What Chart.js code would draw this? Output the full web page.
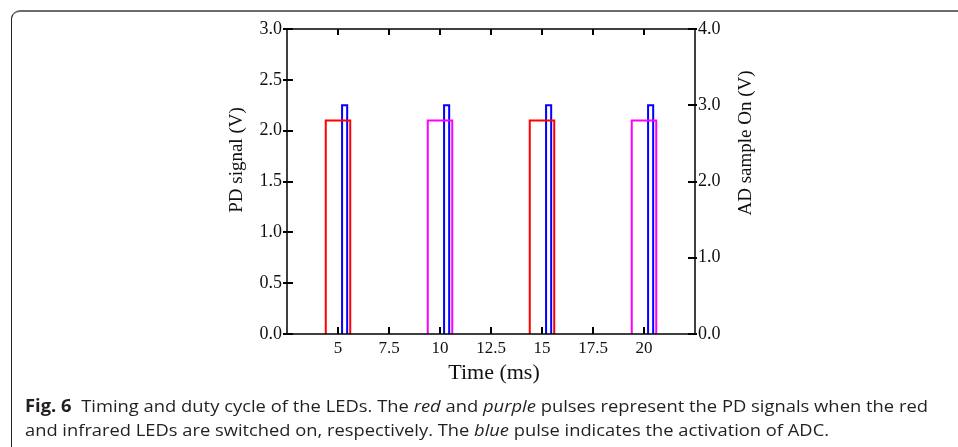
<!DOCTYPE html>
<html>
<head>
<meta charset="utf-8">
<script src="https://cdn.jsdelivr.net/npm/chart.js@4.4.1/dist/chart.umd.min.js"></script>
<style>
  html, body { margin: 0; padding: 0; background: #fff; }
  #wrap { position: relative; width: 958px; height: 447px; overflow: hidden; }
  #frame {
    position: absolute; left: 11px; top: 10px; width: 1000px; height: 500px;
    border-top: 2px solid #6b6b6b; border-left: 1px solid #222;
    border-top-left-radius: 9px;
  }
  #chart { position: absolute; left: 0; top: 0; }
  .cap {
    position: absolute; left: 25px; white-space: nowrap;
    font-family: "Open Sans", sans-serif; font-size: 17px; line-height: 20px;
    color: #231f20; transform-origin: 0 0;
  }
</style>
</head>
<body>
<div id="wrap">
  <div id="frame"></div>
  <canvas id="chart" width="958" height="447"></canvas>
  <div class="cap" data-w="903" style="top: 396px"><b>Fig. 6</b>&nbsp; Timing and duty cycle of the LEDs. The <i>red</i> and <i>purple</i> pulses represent the PD signals when the red</div>
  <div class="cap" data-w="804" style="top: 420px">and infrared LEDs are switched on, respectively. The <i>blue</i> pulse indicates the activation of ADC.</div>
</div>
<script>
// LED drive pulses (ms) and their levels
const ledLevel = 2.1;   // PD signal while an LED is lit (V)
const adcLevel = 3.0;   // AD sample-on level (V)
const redOn = [4.4, 14.4];
const redOff = [5.6, 15.6];
const purpleOn = [9.4, 19.4];
const purpleOff = [10.6, 20.6];
const adcOn = [5.2, 10.2, 15.2, 20.2];
const adcOff = [5.45, 10.45, 15.45, 20.45];

const timeTicks = [5, 7.5, 10, 12.5, 15, 17.5, 20];
const pdTicks = [0, 0.5, 1.0, 1.5, 2.0, 2.5, 3.0];
const adTicks = [0, 1.0, 2.0, 3.0, 4.0];

// rectangular pulses, broken apart with null points
function pulses(on, off, level) {
  const pts = [];
  on.forEach((t0, i) => {
    if (i) pts.push({ x: off[i - 1], y: null });
    pts.push({ x: t0, y: 0 }, { x: t0, y: level }, { x: off[i], y: level }, { x: off[i], y: 0 });
  });
  return pts;
}

const serif = "'Liberation Serif', 'Times New Roman', serif";
const ink = '#111';

const axisFrame = {
  id: 'axisFrame',
  afterDatasetsDraw(chart) {
    const { ctx, chartArea: a, scales } = chart;
    ctx.save();
    ctx.strokeStyle = '#000';
    ctx.lineWidth = 1.5;
    ctx.strokeRect(a.left, a.top, a.width, a.height);

    ctx.lineWidth = 2;
    ctx.beginPath();
    timeTicks.forEach(v => {
      const px = Math.round(scales.x.getPixelForValue(v));
      ctx.moveTo(px, a.bottom); ctx.lineTo(px, a.bottom - 7);
      ctx.moveTo(px, a.top); ctx.lineTo(px, a.top + 6);
    });
    pdTicks.forEach(v => {
      const py = Math.round(scales.y.getPixelForValue(v));
      ctx.moveTo(a.left - 4, py); ctx.lineTo(a.left + 6, py);
    });
    adTicks.forEach(v => {
      const py = Math.round(scales.y2.getPixelForValue(v));
      ctx.moveTo(a.right - 7, py); ctx.lineTo(a.right + 2, py);
    });
    ctx.stroke();

    // axis titles
    ctx.fillStyle = ink;
    ctx.textAlign = 'center';
    ctx.textBaseline = 'middle';
    ctx.font = '22px ' + serif;
    ctx.fillText('Time (ms)', 494, 373);
    ctx.font = '19px ' + serif;
    ctx.translate(237, 160);
    ctx.rotate(-Math.PI / 2);
    ctx.fillText('PD signal (V)', 0, 0);
    ctx.rotate(Math.PI / 2);
    ctx.translate(746 - 237, 143 - 160);
    ctx.rotate(-Math.PI / 2);
    ctx.fillText('AD sample On (V)', 0, 0);
    ctx.restore();
  }
};

const lineStyle = { borderWidth: 2, pointRadius: 0, tension: 0, spanGaps: false, fill: false };
const xFont = { family: serif, size: 17 };
const yFont = { family: serif, size: 18 };

new Chart(document.getElementById('chart'), {
  type: 'line',
  data: {
    datasets: [
      { label: 'Red LED', data: pulses(redOn, redOff, ledLevel), borderColor: '#ff0000', yAxisID: 'y', ...lineStyle },
      { label: 'IR LED', data: pulses(purpleOn, purpleOff, ledLevel), borderColor: '#ff00ff', yAxisID: 'y', ...lineStyle },
      { label: 'ADC', data: pulses(adcOn, adcOff, adcLevel), borderColor: '#0000ff', yAxisID: 'y2', ...lineStyle },
    ],
  },
  options: {
    responsive: false,
    animation: false,
    events: [],
    layout: { padding: { top: 29, left: 0, right: 0, bottom: 0 } },
    plugins: { legend: { display: false }, tooltip: { enabled: false } },
    scales: {
      x: {
        type: 'linear', min: 2.5, max: 22.5,
        grid: { display: false, drawTicks: false }, border: { display: false },
        afterBuildTicks: s => { s.ticks = timeTicks.map(v => ({ value: v })); },
        afterFit: s => { s.height = 113; },
        ticks: { font: xFont, color: ink, padding: 4, maxRotation: 0, autoSkip: false, callback: v => String(v) },
      },
      y: {
        position: 'left', min: 0, max: 3,
        grid: { display: false, drawTicks: false }, border: { display: false },
        afterBuildTicks: s => { s.ticks = pdTicks.map(v => ({ value: v })); },
        afterFit: s => { s.width = 287; },
        ticks: { font: yFont, color: ink, padding: 5, callback: v => v.toFixed(1) },
      },
      y2: {
        position: 'right', min: 0, max: 4,
        grid: { display: false, drawTicks: false }, border: { display: false },
        afterBuildTicks: s => { s.ticks = adTicks.map(v => ({ value: v })); },
        afterFit: s => { s.width = 263; },
        ticks: { font: yFont, color: ink, padding: 3, callback: v => v.toFixed(1) },
      },
    },
  },
  plugins: [axisFrame],
});

// squeeze caption lines to their set widths
document.querySelectorAll('.cap').forEach(el => {
  const w = el.getBoundingClientRect().width;
  el.style.transform = 'scaleX(' + (Number(el.dataset.w) / w) + ')';
});
</script>
</body>
</html>
